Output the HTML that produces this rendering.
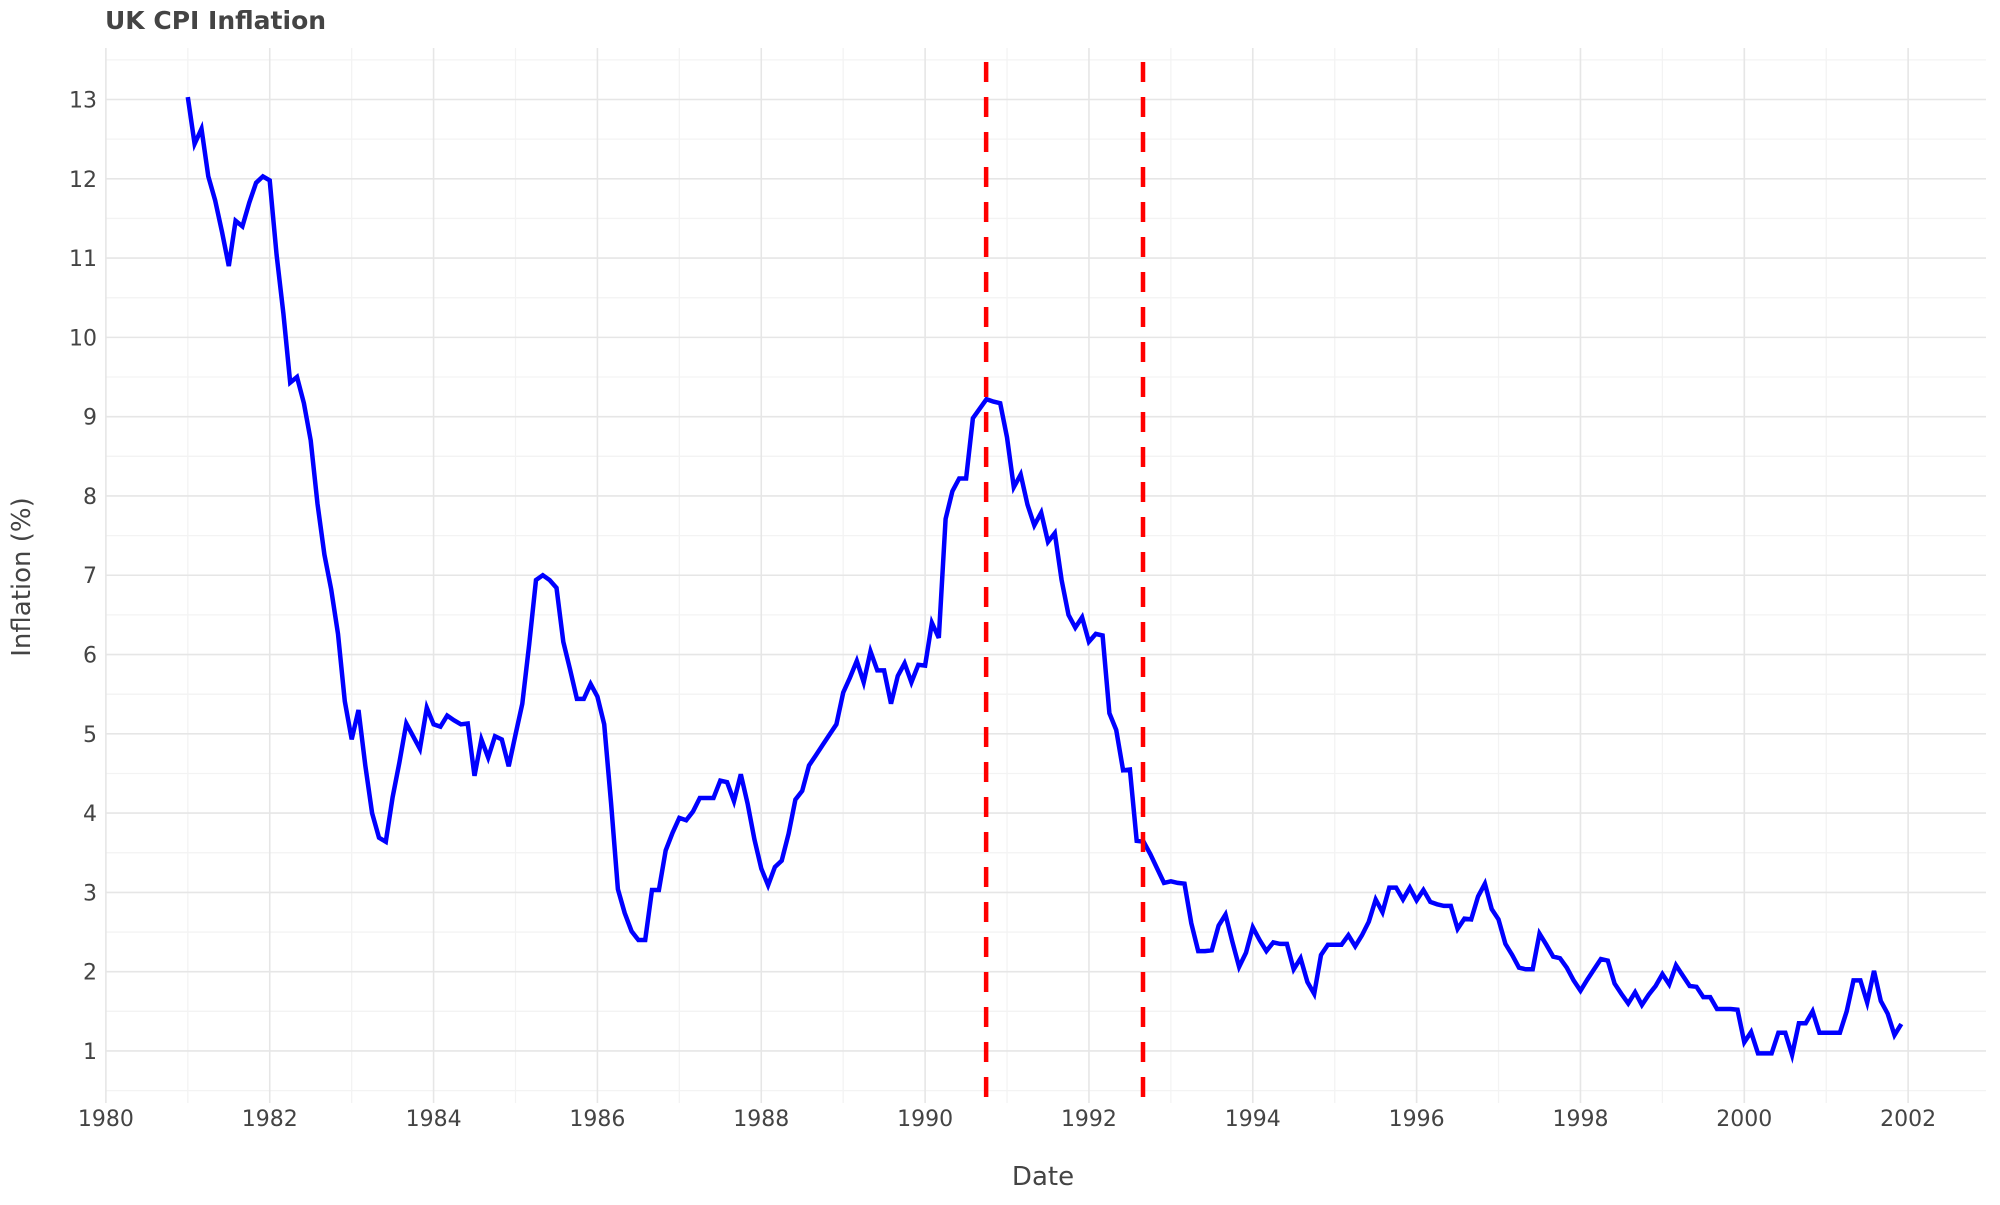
<!DOCTYPE html>
<html><head><meta charset="utf-8"><style>
html,body{margin:0;padding:0;background:#fff;}
svg text{font-family:"DejaVu Sans","Liberation Sans",sans-serif;}
</style></head><body>
<svg id="chart" width="2000" height="1200" xmlns="http://www.w3.org/2000/svg">
<rect x="0" y="0" width="2000" height="1200" fill="#fff"/>
<g id="grid"></g>
<g id="marks"></g>
<g id="axes"></g>
<text x="105" y="29" font-size="25" font-weight="bold" fill="#444">UK CPI Inflation</text>
<text x="1043" y="1185" font-size="26" fill="#444" text-anchor="middle">Date</text>
<text x="0" y="0" font-size="26" fill="#444" text-anchor="middle" transform="translate(30,577) rotate(-90)">Inflation (%)</text>
</svg>
<script>
const startYear = 1981;
const inflation = [
13.03,12.44,12.63,12.03,11.73,11.33,10.9,11.47,11.4,11.7,11.95,12.03,
11.98,11.04,10.3,9.43,9.5,9.17,8.7,7.9,7.26,6.82,6.26,5.41,
4.93,5.3,4.6,4.0,3.69,3.64,4.2,4.64,5.13,4.97,4.81,5.33,
5.12,5.09,5.23,5.17,5.12,5.13,4.47,4.93,4.7,4.97,4.93,4.59,
4.99,5.38,6.13,6.94,7.0,6.94,6.84,6.16,5.81,5.44,5.44,5.63,
5.47,5.12,4.12,3.04,2.74,2.51,2.4,2.4,3.03,3.03,3.53,3.75,
3.94,3.91,4.02,4.19,4.19,4.19,4.41,4.39,4.15,4.49,4.12,3.67,
3.3,3.09,3.32,3.4,3.74,4.17,4.28,4.6,4.73,4.86,4.99,5.12,
5.52,5.71,5.92,5.65,6.04,5.8,5.8,5.38,5.73,5.89,5.65,5.87,
5.86,6.4,6.21,7.71,8.06,8.22,8.22,8.98,9.1,9.22,9.19,9.17,
8.74,8.11,8.27,7.89,7.63,7.79,7.42,7.53,6.94,6.5,6.34,6.47,
6.16,6.26,6.24,5.26,5.05,4.54,4.55,3.65,3.64,3.48,3.3,3.12,
3.14,3.12,3.11,2.61,2.26,2.26,2.27,2.58,2.72,2.38,2.06,2.24,
2.56,2.4,2.26,2.37,2.35,2.35,2.03,2.17,1.87,1.72,2.21,2.34,
2.34,2.34,2.46,2.32,2.46,2.63,2.91,2.75,3.06,3.06,2.91,3.06,
2.9,3.03,2.88,2.85,2.83,2.83,2.54,2.67,2.66,2.95,3.11,2.79,
2.66,2.35,2.21,2.05,2.03,2.03,2.48,2.34,2.19,2.17,2.05,1.89,
1.76,1.9,2.03,2.16,2.14,1.85,1.72,1.6,1.74,1.58,1.71,1.82,
1.97,1.84,2.08,1.95,1.82,1.81,1.68,1.68,1.53,1.53,1.53,1.52,
1.11,1.24,0.97,0.97,0.97,1.23,1.23,0.95,1.35,1.35,1.5,1.23,
1.23,1.23,1.23,1.5,1.89,1.89,1.61,2.01,1.63,1.47,1.2,1.34
];
const eventDates = [1990.745, 1992.66];
const yTicks = [1,2,3,4,5,6,7,8,9,10,11,12,13];
const xTicks = [1980,1982,1984,1986,1988,1990,1992,1994,1996,1998,2000,2002];

const NS = "http://www.w3.org/2000/svg";
const L = 106, R = 1986, T = 48, B = 1103;
function xs(t){ return 105.9 + (t - 1980) * 81.92; }
function ys(v){ return 99.5 + (13 - v) * 79.29; }
function mk(tag, attrs, parent){
  const e = document.createElementNS(NS, tag);
  for (const k in attrs) e.setAttribute(k, attrs[k]);
  parent.appendChild(e); return e;
}
const grid = document.getElementById('grid');
const marks = document.getElementById('marks');
const axes = document.getElementById('axes');

for (let v = 0.5; v <= 13.5; v += 1) {
  const ln = mk('line', {x1:L, x2:R, y1:ys(v), y2:ys(v), stroke:'#f3f3f3', 'stroke-width':1.3}, grid);
  
  
}
for (let yr = 1981; yr <= 2003; yr += 2) {
  if (xs(yr) > R) continue;
  const ln = mk('line', {x1:xs(yr), x2:xs(yr), y1:T, y2:B, stroke:'#f3f3f3', 'stroke-width':1.3}, grid);
  
  
}
yTicks.forEach(v => {
  const ln = mk('line', {x1:L, x2:R, y1:ys(v), y2:ys(v), stroke:'#e6e6e6', 'stroke-width':1.6}, grid);
  
  
  const tx = mk('text', {x:97, y:ys(v)+8, 'font-size':22, fill:'#444', 'text-anchor':'end'}, axes);
  tx.textContent = v;
  
  
});
xTicks.forEach(t => {
  const ln = mk('line', {x1:xs(t), x2:xs(t), y1:T, y2:B, stroke:'#e6e6e6', 'stroke-width':1.6}, grid);
  
  
  const tx = mk('text', {x:xs(t), y:1126, 'font-size':22, fill:'#444', 'text-anchor':'middle'}, axes);
  tx.textContent = t;
  
  
});

const pts = inflation.map((v,i) => xs(startYear + i/12).toFixed(1) + ',' + ys(v).toFixed(1)).join(' ');
const line = mk('polyline', {points:pts, fill:'none', stroke:'#0000ff', 'stroke-width':4.5, 'stroke-linejoin':'miter'}, marks);



eventDates.forEach(d => {
  const ln = mk('line', {x1:xs(d), x2:xs(d), y1:62, y2:B, stroke:'#ff0000', 'stroke-width':4.5, 'stroke-dasharray':'20 15'}, marks);
  
  
});
</script>
</body></html>
